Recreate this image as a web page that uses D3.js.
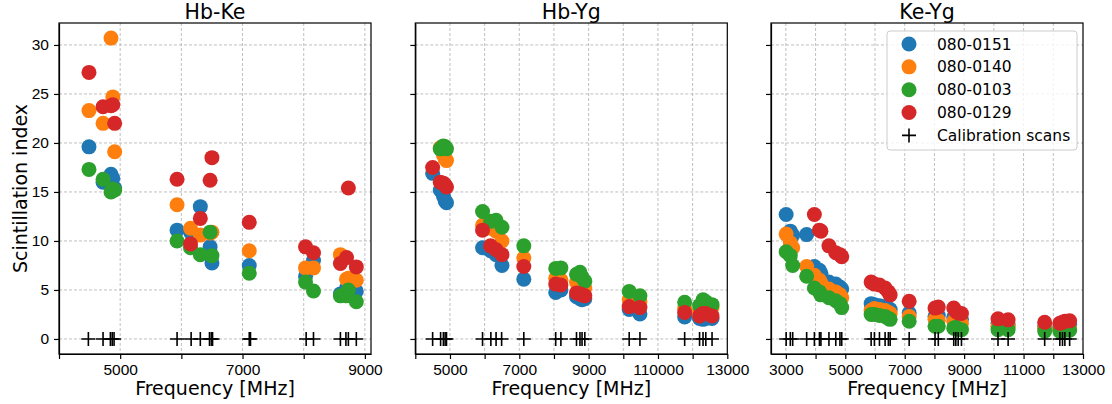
<!DOCTYPE html>
<html>
<head>
<meta charset="utf-8">
<script src="https://cdn.jsdelivr.net/npm/d3@7"></script>
<style>
body { margin: 0; background: #fff; }
svg { font-family: "DejaVu Sans", sans-serif; }
.grid line { stroke: #b0b0b0; stroke-width: 0.8; stroke-dasharray: 3,2; }
.axis path, .axis line { stroke: #000; stroke-width: 1.2; }
.axis text { font-size: 15.5px; fill: #000; }
.title { font-size: 20.5px; }
.label { font-size: 19px; }
.legend text { font-size: 15.5px; }
</style>
</head>
<body>
<div id="viz"></div>
<script>
const sources = ["080-0151", "080-0140", "080-0103", "080-0129"];
const colors = ["#1f77b4", "#ff7f0e", "#2ca02c", "#d62728"];
const titles = ["Hb-Ke", "Hb-Yg", "Ke-Yg"];
const yTicks = [0, 5, 10, 15, 20, 25, 30];

// Hb-Ke
const hbKeFreq = [4490, 4720, 4850, 4880, 4910, 5930, 6150, 6310, 6470, 6500, 7110, 8030, 8160, 8600, 8700, 8730, 8860];
const hbKe0151 = [19.6, 16.0, 16.8, 16.4, 15.4, 11.1, 10.9, 13.5, 9.4, 7.75, 7.5, 6.4, 8.0, 4.6, 5.2, null, 4.85];
const hbKe0140 = [23.3, 22.0, 30.7, 24.7, 19.1, 13.7, 11.3, 10.6, 10.8, 10.9, 9.0, 7.25, 7.25, 8.6, 6.1, 6.2, 6.0];
const hbKe0103 = [17.3, 16.3, 15.0, 15.3, 15.2, 10.0, 9.3, 8.6, 10.9, 8.5, 6.7, 5.8, 4.9, 4.4, 4.4, 5.0, 3.8];
const hbKe0129 = [27.2, 23.7, 23.8, 23.9, 22.0, 16.3, 9.7, 12.3, 16.2, 18.5, 11.9, 9.4, 8.8, 7.7, 8.3, 15.4, 7.35];
const hbKeCal = [4480, 4720, 4840, 4870, 4900, 5930, 6160, 6310, 6460, 6490, 6510, 7110, 7130, 8040, 8160, 8600, 8690, 8730, 8860];
const hbKeTicks = [4000, 5000, 6000, 7000, 8000, 9000];
const hbKeLabels = ["", "5000", "", "7000", "", "9000"];

// Hb-Yg
const hbYgFreq = [4500, 4720, 4810, 4860, 4900, 5940, 6170, 6330, 6500, 7130, 8050, 8200, 8650, 8750, 8810, 8890, 10170, 10480, 11770, 12200, 12300, 12380, 12560];
const hbYg0151 = [16.9, 15.2, 14.6, 14.1, 13.9, 9.3, 9.0, 8.6, 7.5, 6.1, 4.75, 5.0, 4.3, 4.1, 4.0, 4.1, 3.0, 2.55, 2.25, 2.1, 2.0, 2.1, 2.1];
const hbYg0140 = [null, 19.5, 18.8, 18.4, 18.2, 11.6, 11.3, 11.0, 10.0, 8.25, 6.2, 6.0, 5.8, 5.7, 5.5, 5.2, 4.0, 3.8, 3.1, 2.8, 3.0, 3.1, 3.2];
const hbYg0103 = [null, 19.4, 19.7, 19.6, 19.4, 13.0, 12.0, 12.1, 11.4, 9.5, 7.2, 7.25, 6.6, 6.8, 6.3, 5.9, 4.85, 4.4, 3.75, 3.4, 4.0, 3.8, 3.5];
const hbYg0129 = [17.5, 16.0, 15.9, 15.7, 15.5, 11.1, 9.5, 9.1, 8.6, 7.4, 5.6, 5.5, 4.7, 4.6, 4.5, 4.4, 3.3, 3.2, 2.7, 2.35, 2.6, 2.6, 2.35];
const hbYgCal = [4500, 4730, 4810, 4860, 4900, 5940, 6180, 6330, 6490, 7130, 8050, 8200, 8650, 8750, 8810, 8890, 10170, 10480, 11770, 12200, 12300, 12380, 12560];
const hbYgTicks = [4000, 5000, 6000, 7000, 8000, 9000, 10000, 11000, 12000, 13000];
const hbYgLabels = ["", "5000", "", "7000", "", "9000", "", "110000", "", "13000"];

// Ke-Yg
const keYgFreq = [3010, 3150, 3230, 3700, 3960, 4130, 4180, 4450, 4680, 4820, 4880, 5870, 5980, 6150, 6340, 6450, 6510, 7150, 8020, 8130, 8650, 8720, 8800, 8910, 10140, 10480, 11710, 12220, 12310, 12390, 12550];
const keYg0151 = [12.7, 11.0, 10.6, 10.65, 7.4, 7.0, 6.7, 5.8, 5.6, 5.3, 5.1, 3.6, 3.5, 3.4, 3.3, 3.1, 3.0, 2.65, 2.3, 2.4, 2.2, 2.1, 2.0, 2.0, 1.6, 1.5, 1.3, 1.2, 1.3, 1.4, 1.5];
const keYg0140 = [10.7, 9.8, 9.3, 7.4, 6.5, 6.0, 5.7, 5.1, 4.8, 4.5, 4.2, 2.9, 3.1, 3.0, 2.9, 2.7, 2.6, 2.3, 2.0, 1.9, 1.8, 1.7, 1.6, 1.6, 1.3, 1.3, 1.1, 1.0, 1.1, 1.1, 1.0];
const keYg0103 = [8.9, 8.5, 7.5, 6.4, 5.2, 4.8, 4.5, 4.2, 3.9, 3.6, 3.2, 2.5, 2.5, 2.4, 2.3, 2.1, 2.0, 1.8, 1.3, 1.3, 1.1, 1.2, 1.0, 0.95, 0.95, 0.95, 0.8, 0.8, 0.9, 0.9, 0.9];
const keYg0129 = [null, null, null, null, 12.7, 11.1, 11.0, 9.5, 8.8, 8.6, 8.4, 5.8, 5.6, 5.5, 5.2, 4.8, 4.5, 3.85, 3.15, 3.25, 3.15, 2.8, 2.65, 2.6, 2.05, 1.95, 1.7, 1.6, 1.7, 1.8, 1.85];
const keYgCal = [3010, 3150, 3230, 3700, 3960, 4130, 4180, 4450, 4680, 4820, 4880, 5870, 5980, 6150, 6340, 6450, 6510, 7150, 8020, 8130, 8650, 8720, 8800, 8910, 10140, 10480, 11710, 12220, 12310, 12390, 12550];
const keYgTicks = [3000, 4000, 5000, 6000, 7000, 8000, 9000, 10000, 11000, 12000, 13000];
const keYgLabels = ["3000", "", "5000", "", "7000", "", "9000", "", "11000", "", "13000"];

const width = 1112;
const height = 404;
const panelLeft = [59, 415.3, 771];
const panelW = 312;
const plotTop = 23;
const plotBottom = 354;

const panels = [
    { freq: hbKeFreq, series: [hbKe0151, hbKe0140, hbKe0103, hbKe0129], cal: hbKeCal,
      domain: [4000, 9100], ticks: hbKeTicks, labels: hbKeLabels },
    { freq: hbYgFreq, series: [hbYg0151, hbYg0140, hbYg0103, hbYg0129], cal: hbYgCal,
      domain: [4000, 13000], ticks: hbYgTicks, labels: hbYgLabels },
    { freq: keYgFreq, series: [keYg0151, keYg0140, keYg0103, keYg0129], cal: keYgCal,
      domain: [2500, 13000], ticks: keYgTicks, labels: keYgLabels }
];

const svg = d3.select("#viz").append("svg")
    .attr("width", width)
    .attr("height", height);

const yScale = d3.scaleLinear().domain([-1.535, 32.24]).range([plotBottom, plotTop]);

const plus = "M-7,0H7M0,-7V7";

panels.forEach(function(p, i) {
    const x0 = panelLeft[i];
    const xScale = d3.scaleLinear().domain(p.domain).range([x0, x0 + panelW]);

    const g = svg.append("g");

    // grid
    const grid = g.append("g").attr("class", "grid");
    grid.selectAll("vline")
        .data(p.ticks.filter(function(t) { return t > p.domain[0] && t < p.domain[1]; }))
        .enter().append("line")
        .attr("x1", function(d) { return xScale(d); })
        .attr("x2", function(d) { return xScale(d); })
        .attr("y1", plotTop).attr("y2", plotBottom);
    grid.selectAll("hline")
        .data(yTicks)
        .enter().append("line")
        .attr("x1", x0).attr("x2", x0 + panelW)
        .attr("y1", function(d) { return yScale(d); })
        .attr("y2", function(d) { return yScale(d); });

    // scatter points, one source at a time so red ends on top
    p.series.forEach(function(vals, s) {
        const pts = p.freq.map(function(f, k) { return { f: f, v: vals[k] }; })
            .filter(function(d) { return d.v !== null; });
        g.append("g").selectAll("circle")
            .data(pts)
            .enter().append("circle")
            .attr("cx", function(d) { return xScale(d.f); })
            .attr("cy", function(d) { return yScale(d.v); })
            .attr("r", 7.5)
            .attr("fill", colors[s]);
    });

    // calibration scans
    g.append("g").selectAll("path")
        .data(p.cal)
        .enter().append("path")
        .attr("d", plus)
        .attr("transform", function(d) { return "translate(" + xScale(d) + "," + yScale(0) + ")"; })
        .attr("stroke", "#000")
        .attr("stroke-width", 1.6)
        .attr("fill", "none");

    // axes
    const xaxis = d3.axisBottom(xScale)
        .tickValues(p.ticks)
        .tickFormat(function(d, k) { return p.labels[k]; })
        .tickSize(5)
        .tickSizeOuter(0)
        .tickPadding(5);
    g.append("g")
        .attr("class", "axis")
        .attr("transform", "translate(0," + plotBottom + ")")
        .call(xaxis);

    const yaxis = d3.axisLeft(yScale)
        .tickValues(yTicks)
        .tickFormat(i === 0 ? d3.format("d") : function() { return ""; })
        .tickSize(5)
        .tickSizeOuter(0)
        .tickPadding(5);
    g.append("g")
        .attr("class", "axis")
        .attr("transform", "translate(" + x0 + ",0)")
        .call(yaxis);

    // frame
    g.append("rect")
        .attr("x", x0).attr("y", plotTop)
        .attr("width", panelW).attr("height", plotBottom - plotTop)
        .attr("fill", "none")
        .attr("stroke", "#000")
        .attr("stroke-width", 1.2);

    g.append("text")
        .attr("class", "title")
        .attr("x", x0 + panelW / 2)
        .attr("y", plotTop - 4)
        .attr("text-anchor", "middle")
        .text(titles[i]);

    g.append("text")
        .attr("class", "label")
        .attr("x", x0 + panelW / 2)
        .attr("y", 395)
        .attr("text-anchor", "middle")
        .text("Frequency [MHz]");
});

svg.append("text")
    .attr("class", "label")
    .attr("transform", "translate(27," + ((plotTop + plotBottom) / 2) + ") rotate(-90)")
    .attr("text-anchor", "middle")
    .text("Scintillation index");

// legend
const legend = svg.append("g").attr("class", "legend");
legend.append("rect")
    .attr("x", 887).attr("y", 31)
    .attr("width", 190).attr("height", 119)
    .attr("rx", 3)
    .attr("fill", "#fff")
    .attr("fill-opacity", 0.8)
    .attr("stroke", "#cccccc");

const items = legend.selectAll("item")
    .data(sources.concat(["Calibration scans"]))
    .enter().append("g")
    .attr("transform", function(d, k) { return "translate(909," + (44 + k * 22.85) + ")"; });

items.filter(function(d, k) { return k < 4; })
    .append("circle")
    .attr("r", 7.5)
    .attr("fill", function(d, k) { return colors[k]; });

items.filter(function(d, k) { return k === 4; })
    .append("path")
    .attr("d", plus)
    .attr("stroke", "#000")
    .attr("stroke-width", 1.6);

items.append("text")
    .attr("x", 28)
    .attr("dy", "0.36em")
    .text(function(d) { return d; });
</script>
</body>
</html>
